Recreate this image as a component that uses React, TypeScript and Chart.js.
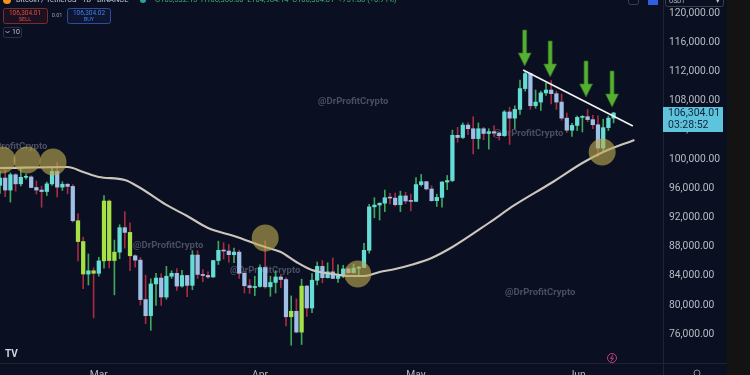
import { useEffect, useRef } from 'react';
import { Chart, registerables } from 'chart.js';

Chart.register(...registerables);

// ---------- DATA (day index 0 = Feb 10) ----------
const openP = [
  96400, 97400, 95750, 97850, 96600, 97500, 97550, 96100, 95750, 95550,
  96600, 98300, 96150, 96550, 96250, 91550, 88700, 84250, 84700, 84350,
  86050, 94250, 86100, 87250, 90600, 89950, 86750, 86150, 80750, 78550,
  82900, 83700, 81100, 83950, 84350, 82600, 84050, 82700, 86850, 84200,
  84050, 83850, 86100, 87500, 87400, 86900, 87250, 84350, 82650, 82400,
  82550, 85150, 82500, 83100, 83850, 83500, 78400, 79150, 76300, 82600,
  79600, 83400, 85300, 83750, 84550, 83650, 84050, 84950, 84450, 85050,
  85150, 87500, 93450, 93700, 93950, 94700, 94650, 93750, 94950, 94250,
  94200, 96500, 96900, 95900, 94300, 94750, 96850, 97050, 103250, 102950,
  104650, 104150, 102800, 104150, 103500, 103750, 103550, 103200, 106450, 105600,
  106800, 109650, 111700, 107300, 107800, 109050, 109450, 108950, 107800, 105600,
  103950, 104600, 105700, 105800, 105400, 104700, 101500, 104300, 105600,
];
const highP = [
  98300, 98500, 98100, 98000, 98800, 97950, 97700, 97000, 96300, 96850,
  98750, 99500, 96900, 96650, 96500, 92500, 89300, 87000, 85100, 86550,
  95000, 94400, 88900, 91000, 92800, 91250, 86900, 86500, 84100, 83600,
  84350, 84300, 85300, 84700, 85000, 84750, 84100, 87450, 87450, 84850,
  84550, 86100, 88750, 88550, 88300, 87800, 87500, 84600, 83500, 83950,
  85500, 88800, 83950, 84700, 84200, 83750, 81250, 80850, 83550, 82700,
  84300, 85900, 86100, 85800, 86450, 85500, 85450, 85100, 85600, 85300,
  88450, 93800, 94700, 94000, 95750, 95300, 95350, 95600, 95450, 95200,
  97450, 97900, 96950, 96350, 95200, 96900, 97750, 103950, 104350, 104950,
  104950, 105800, 104950, 104350, 104150, 104550, 103700, 106650, 107100, 107300,
  110800, 111950, 111800, 109450, 109300, 110400, 110750, 109300, 108900, 106300,
  104900, 105900, 105950, 106800, 106000, 105900, 105450, 105900, 106400,
];
const lowP = [
  95300, 94850, 94100, 95600, 96300, 97250, 96050, 95200, 93400, 95000,
  96400, 94800, 95700, 95250, 91350, 86050, 82250, 82750, 78250, 83950,
  85050, 85100, 81400, 86350, 87800, 84700, 85200, 80000, 77450, 76550,
  79950, 79950, 80800, 83650, 82000, 82450, 81150, 82100, 83650, 83200,
  83650, 83800, 85550, 86300, 85850, 85800, 83650, 81650, 81600, 81300,
  82450, 82300, 81200, 81650, 82400, 77150, 74500, 76200, 74600, 78450,
  78950, 82750, 83050, 83700, 83600, 83100, 83750, 84300, 84350, 83950,
  85150, 87100, 91950, 91650, 92800, 93850, 93550, 92800, 93900, 92900,
  94150, 96300, 95750, 94200, 93500, 93400, 95800, 96900, 102300, 102800,
  103350, 100700, 101400, 102650, 101350, 103100, 102600, 103100, 102000, 104150,
  106100, 109300, 106800, 106950, 106650, 108700, 107550, 106800, 105300, 103650,
  103100, 103900, 103700, 105100, 104150, 100350, 101100, 103900, 104950,
];
const closeP = [
  97400, 95750, 97850, 96600, 97500, 97550, 96100, 95750, 95550, 96600,
  98300, 96150, 96550, 96250, 91550, 88700, 84250, 84700, 84350, 86050,
  94250, 86100, 87250, 90600, 89950, 86750, 86150, 80750, 78550, 82900,
  83700, 81100, 83950, 84350, 82600, 84050, 82700, 86850, 84200, 84050,
  83850, 86100, 87500, 87400, 86900, 87250, 84350, 82650, 82400, 82550,
  85150, 82500, 83100, 83850, 83500, 78400, 79150, 76300, 82600, 79600,
  83400, 85300, 83750, 84550, 83650, 84050, 84950, 84450, 85050, 85150,
  87500, 93450, 93700, 93950, 94700, 94650, 93750, 94950, 94250, 94200,
  96500, 96900, 95900, 94300, 94750, 96850, 97050, 103250, 102950, 104650,
  104150, 102800, 104150, 103500, 103750, 103550, 103200, 106450, 105600, 106800,
  109650, 111700, 107300, 107800, 109050, 109450, 108950, 107800, 105600, 103950,
  104600, 105700, 105800, 105400, 104700, 101500, 104300, 105600, 106304.01,
];
// candles the indicator paints in lime (heavy volume)
const heavyVolumeDays = [15, 16, 18, 20, 21, 22, 25, 56, 58];

// moving average
const maDays = [0, 13, 16, 19, 24, 27, 32, 36, 40, 45, 51, 54, 57, 60, 64, 67, 70, 73, 76, 79, 83, 87, 94, 99, 106, 112, 116, 122];
const maValues = [98770, 98910, 98225, 97540, 97130, 96030, 93710, 92200, 90560, 89460, 87950, 87270, 85900, 84800, 84260, 83980, 83980, 84530, 84940, 85490, 86450, 87950, 91240, 93710, 96720, 99460, 100960, 102610];

// descending trend line
const trendDays = [100.6, 121.7];
const trendPrices = [112200, 104520];

// highlight circles
const circleDays = [0.4, 5.2, 10.2, 51, 68.8, 115.8];
const circlePrices = [99870, 99870, 99600, 89190, 84260, 100960];

// green arrows (tip positions)
const arrowDays = [100.9, 105.8, 112.7, 117.7];
const arrowPrices = [112740, 111235, 108500, 107130];

const monthTickDays = [19, 50, 80, 111];
const monthTickLabels = ['Mar', 'Apr', 'May', 'Jun'];
const priceTicks = [76000, 80000, 84000, 88000, 92000, 96000, 100000, 104000, 108000, 112000, 116000, 120000];

const lastPrice = 106304.01;
const countdown = '03:28:52';
const symbolTitle = 'Bitcoin / TetherUS · 1D · BINANCE';
const ohlcText = 'O105,532.15  H106,366.00  L104,964.14  C106,304.01  +751.86 (+0.71%)';
const sellPrice = '106,304.01';
const buyPrice = '106,304.02';
const spreadText = '0.01';
const watermark = '@DrProfitCrypto';

// ---------- STYLE ----------
const W = 750;
const H = 375;
const BG = '#0a0f21';
const UP = '#66dcd6';
const DOWN = '#9fbfe6';
const LIME = '#a6e245';
const WICK_UP = '#3fa85a';
const WICK_DOWN = '#a62c40';
const FONT = 'Roboto, "Liberation Sans", sans-serif';

const fmt = (v: number) =>
  v.toLocaleString('en-US', { minimumFractionDigits: 2, maximumFractionDigits: 2 });

const bgPlugin = {
  id: 'bg',
  beforeDraw(chart: any) {
    const ctx = chart.ctx;
    ctx.save();
    ctx.fillStyle = BG;
    ctx.fillRect(0, 0, W, H);
    ctx.fillStyle = '#131313';
    ctx.fillRect(727, 0, W - 727, H);
    ctx.restore();
  },
};

const overlayPlugin = {
  id: 'overlay',
  beforeDatasetsDraw(chart: any) {
    const ctx = chart.ctx;
    ctx.save();
    ctx.font = `bold 9.5px ${FONT}`;
    ctx.fillStyle = 'rgba(150,156,172,0.45)';
    ctx.textBaseline = 'middle';
    ctx.textAlign = 'left';
    const spots = [[-23, 147], [133, 246], [230, 271], [318, 102], [493, 134], [505, 293]];
    spots.forEach(([x, y]) => ctx.fillText(watermark, x, y));
    ctx.restore();
  },
  afterDatasetsDraw(chart: any) {
    const ctx = chart.ctx;
    const xs = chart.scales.x;
    const ys = chart.scales.y;
    ctx.save();
    arrowDays.forEach((d, i) => {
      const px = xs.getPixelForValue(d);
      const py = ys.getPixelForValue(arrowPrices[i]);
      ctx.beginPath();
      ctx.moveTo(px - 2, py - 36);
      ctx.lineTo(px + 2, py - 36);
      ctx.lineTo(px + 2, py - 13);
      ctx.lineTo(px + 6.5, py - 13);
      ctx.lineTo(px, py);
      ctx.lineTo(px - 6.5, py - 13);
      ctx.lineTo(px - 2, py - 13);
      ctx.closePath();
      ctx.fillStyle = '#55b032';
      ctx.fill();
      ctx.strokeStyle = '#2f6a22';
      ctx.lineWidth = 0.7;
      ctx.stroke();
    });
    ctx.restore();
  },
  afterDraw(chart: any) {
    const ctx = chart.ctx;
    const ys = chart.scales.y;
    ctx.save();
    // separators
    ctx.strokeStyle = '#1f2432';
    ctx.lineWidth = 1;
    ctx.beginPath();
    ctx.moveTo(663.5, 0);
    ctx.lineTo(663.5, H);
    ctx.moveTo(0, 363.5);
    ctx.lineTo(727, 363.5);
    ctx.stroke();

    // last price box
    const py = ys.getPixelForValue(lastPrice);
    ctx.fillStyle = '#5ec4dc';
    ctx.fillRect(663, py - 6, 60, 25);
    ctx.fillStyle = '#10233a';
    ctx.font = `10.5px ${FONT}`;
    ctx.textBaseline = 'middle';
    ctx.textAlign = 'left';
    ctx.fillText(fmt(lastPrice), 668, py);
    ctx.fillText(countdown, 668, py + 12);

    // header
    ctx.fillStyle = '#f7931a';
    ctx.beginPath();
    ctx.arc(7, 0, 4, 0, Math.PI * 2);
    ctx.fill();
    ctx.font = `7.5px ${FONT}`;
    ctx.fillStyle = '#c9ccd6';
    ctx.fillText(symbolTitle, 16, 0);
    ctx.fillStyle = '#26a69a';
    ctx.beginPath();
    ctx.arc(143, 0, 3, 0, Math.PI * 2);
    ctx.fill();
    ctx.fillStyle = '#43b36e';
    ctx.fillText(ohlcText, 155, 0);

    const box = (x: number, y: number, w: number, h: number, stroke: string, fill: string) => {
      ctx.beginPath();
      ctx.roundRect(x + 0.5, y + 0.5, w, h, 2);
      ctx.fillStyle = fill;
      ctx.fill();
      ctx.strokeStyle = stroke;
      ctx.lineWidth = 1;
      ctx.stroke();
    };
    box(3, 8, 44, 15, '#7a2c2e', 'rgba(110,30,30,0.18)');
    box(67, 8, 43, 15, '#2b4d9c', 'rgba(30,50,120,0.18)');
    ctx.textAlign = 'center';
    ctx.font = `6.5px ${FONT}`;
    ctx.fillStyle = '#d9504a';
    ctx.fillText(sellPrice, 25, 13);
    ctx.font = `5.5px ${FONT}`;
    ctx.fillText('SELL', 25, 19.5);
    ctx.font = `6.5px ${FONT}`;
    ctx.fillStyle = '#4a7fe6';
    ctx.fillText(buyPrice, 89, 13);
    ctx.font = `5.5px ${FONT}`;
    ctx.fillText('BUY', 89, 19.5);
    ctx.fillStyle = '#9aa0ad';
    ctx.fillText(spreadText, 57, 15.5);

    box(3, 27, 18, 10, '#2e3342', 'rgba(0,0,0,0)');
    ctx.strokeStyle = '#aab0bc';
    ctx.beginPath();
    ctx.moveTo(5.5, 31);
    ctx.lineTo(7.5, 33);
    ctx.lineTo(9.5, 31);
    ctx.stroke();
    ctx.fillStyle = '#c0c4ce';
    ctx.font = `7px ${FONT}`;
    ctx.textAlign = 'left';
    ctx.fillText('10', 12, 32.5);

    // top-right controls
    box(628, -6, 10, 10, '#3a3f4e', 'rgba(0,0,0,0)');
    ctx.fillStyle = '#2f5fe0';
    ctx.fillRect(648, -5, 10, 10);
    box(665, -6, 58, 12, '#3a3f4e', 'rgba(0,0,0,0)');
    ctx.fillStyle = '#b8bcc6';
    ctx.font = `6.5px ${FONT}`;
    ctx.fillText('USDT', 669, 1);
    ctx.fillText('▾', 716, 1);

    // bottom logo and icons
    ctx.fillStyle = '#d1d4dc';
    ctx.font = `bold 10px ${FONT}`;
    ctx.fillText('TV', 5, 354);
    ctx.strokeStyle = '#c2407a';
    ctx.beginPath();
    ctx.arc(612, 358, 4.5, 0, Math.PI * 2);
    ctx.stroke();
    ctx.beginPath();
    ctx.moveTo(613, 355);
    ctx.lineTo(610.5, 358.5);
    ctx.lineTo(613.5, 358);
    ctx.lineTo(611, 361);
    ctx.stroke();
    ctx.strokeStyle = '#8a8f9c';
    ctx.beginPath();
    ctx.arc(697, 373, 3, 0, Math.PI * 2);
    ctx.stroke();
    ctx.restore();
  },
};

export default function App() {
  const ref = useRef<HTMLCanvasElement>(null);

  useEffect(() => {
    const canvas = ref.current;
    if (!canvas) return;
    const bodyColors = openP.map((o, i) =>
      heavyVolumeDays.includes(i) ? LIME : closeP[i] >= o ? UP : DOWN
    );
    const wickColors = openP.map((o, i) => (closeP[i] >= o ? WICK_UP : WICK_DOWN));

    const chart = new Chart(canvas, {
      type: 'bar',
      data: {
        datasets: [
          {
            type: 'scatter',
            label: 'circles',
            data: circleDays.map((d, i) => ({ x: d, y: circlePrices[i] })),
            pointRadius: 13.5,
            pointHoverRadius: 13.5,
            backgroundColor: 'rgba(190,170,80,0.62)',
            borderWidth: 0,
            order: 0,
          } as any,
          {
            type: 'line',
            label: 'trend',
            data: trendDays.map((d, i) => ({ x: d, y: trendPrices[i] })),
            borderColor: '#f2f2f2',
            borderWidth: 1.6,
            pointRadius: 0,
            order: 1,
          } as any,
          {
            type: 'line',
            label: 'MA',
            data: maDays.map((d, i) => ({ x: d, y: maValues[i] })),
            borderColor: '#cbc5bc',
            borderWidth: 2.1,
            pointRadius: 0,
            tension: 0.4,
            cubicInterpolationMode: 'monotone',
            order: 2,
          } as any,
          {
            type: 'bar',
            label: 'body',
            data: openP.map((o, i) => ({ x: i, y: [o, closeP[i]] })),
            backgroundColor: bodyColors,
            borderWidth: 0,
            barThickness: 3.6,
            minBarLength: 1,
            grouped: false,
            order: 3,
          } as any,
          {
            type: 'bar',
            label: 'wick',
            data: lowP.map((l, i) => ({ x: i, y: [l, highP[i]] })),
            backgroundColor: wickColors,
            borderWidth: 0,
            barThickness: 1,
            grouped: false,
            order: 4,
          } as any,
        ],
      },
      options: {
        responsive: false,
        animation: false,
        devicePixelRatio: 1,
        layout: { padding: { left: 0, right: 23, top: 0, bottom: 0 }, autoPadding: false },
        plugins: { legend: { display: false }, tooltip: { enabled: false } },
        events: [],
        scales: {
          x: {
            type: 'linear',
            min: 0,
            max: 127.5,
            offset: false,
            grid: { display: false, drawTicks: false },
            border: { display: false },
            afterBuildTicks: (s: any) => {
              s.ticks = monthTickDays.map((v) => ({ value: v }));
            },
            afterFit: (s: any) => {
              s.height = 12;
              s.paddingLeft = 0;
              s.paddingRight = 0;
            },
            ticks: {
              autoSkip: false,
              maxRotation: 0,
              padding: 6,
              color: '#b2b6c0',
              font: { family: 'Roboto', size: 10.3 },
              callback: (v: any) => {
                const k = monthTickDays.indexOf(Number(v));
                return k >= 0 ? monthTickLabels[k] : '';
              },
            },
          },
          y: {
            type: 'linear',
            position: 'right',
            min: 72067,
            max: 121780,
            grid: { display: false, drawTicks: false },
            border: { display: false },
            afterBuildTicks: (s: any) => {
              s.ticks = priceTicks.map((v) => ({ value: v }));
            },
            afterFit: (s: any) => {
              s.width = 64;
              s.paddingTop = 0;
              s.paddingBottom = 0;
            },
            ticks: {
              padding: 6,
              color: '#b8bcc6',
              font: { family: 'Roboto', size: 10.3 },
              callback: (v: any) => fmt(Number(v)),
            },
          },
        },
      } as any,
      plugins: [bgPlugin, overlayPlugin],
    });
    return () => chart.destroy();
  }, []);

  return (
    <div style={{ position: 'fixed', left: 0, top: 0, width: W, height: H, background: BG }}>
      <canvas ref={ref} width={W} height={H} style={{ display: 'block', width: W, height: H }} />
    </div>
  );
}
